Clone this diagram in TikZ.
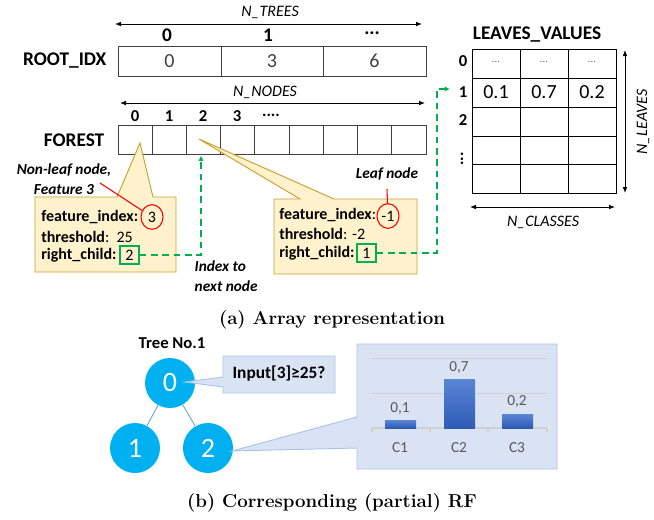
\documentclass[tikz,border=0pt]{standalone}
\usepackage{fontspec}
\newfontfamily\carl{Carlito}
\usetikzlibrary{arrows.meta,shapes.geometric}
\definecolor{callfill}{HTML}{FFF2CC}
\definecolor{calldraw}{HTML}{C9A030}
\definecolor{grn}{HTML}{00B050}
\definecolor{cyanc}{HTML}{00B0F0}
\definecolor{bfill}{HTML}{DAE3F3}
\definecolor{bdraw}{HTML}{A9C4E8}
\definecolor{edgec}{HTML}{5B9BD5}
\definecolor{bartop}{HTML}{5A86D6}
\definecolor{barbot}{HTML}{2D5BB5}
\definecolor{axisg}{HTML}{D0D0D0}
\definecolor{labg}{HTML}{595959}
\tikzset{
  arr/.style={line width=0.6pt,{Latex[length=4.5pt,width=3.5pt]}-{Latex[length=4.5pt,width=3.5pt]}},
  arrlbl/.style={font=\carl\itshape\fontsize{12}{14}\selectfont},
  bigbold/.style={font=\carl\bfseries\fontsize{14.5}{17}\selectfont},
  hdr/.style={font=\carl\bfseries\fontsize{14.5}{17}\selectfont},
  hdrs/.style={font=\carl\bfseries\fontsize{12.5}{15}\selectfont},
  cellv/.style={font=\carl\fontsize{15}{17}\selectfont,text=black!75},
  cellline/.style={draw=black!75,line width=0.7pt},
  gridline/.style={draw=black,line width=0.7pt},
  callout/.style={fill=callfill,draw=calldraw,line width=0.7pt},
  ctxt/.style={font=\carl\fontsize{12}{14}\selectfont,inner sep=0pt},
  note/.style={font=\carl\bfseries\itshape\fontsize{11.5}{15}\selectfont},
  redell/.style={ellipse,draw=red,line width=0.8pt,inner sep=0pt,minimum width=16.5pt,minimum height=18.5pt,font=\carl\fontsize{12}{14}\selectfont},
  redline/.style={draw=red,line width=0.8pt},
  greenbox/.style={draw=grn,line width=1.1pt,inner sep=0pt,minimum width=14pt,minimum height=13.5pt,font=\carl\fontsize{12}{14}\selectfont},
  gdash/.style={draw=grn,line width=1.3pt,dash pattern=on 5pt off 3.5pt,-{Latex[length=4pt,width=4pt]}},
  treenode/.style={circle,fill=cyanc,text=white,minimum size=37.5pt,inner sep=0pt,font=\carl\fontsize{21}{24}\selectfont},
  treeedge/.style={draw=edgec,line width=0.6pt},
  bcall/.style={fill=bfill,draw=bdraw,line width=0.7pt},
  chartlbl/.style={font=\carl\fontsize{11.5}{13}\selectfont,text=labg},
  capt/.style={font=\bfseries\fontsize{14}{16}\selectfont},
}
\begin{document}
\begin{tikzpicture}[x=0.75pt,y=-0.75pt]
\useasboundingbox (0,0) rectangle (654,519);

% ---------- ROOT_IDX ----------
\coordinate (ntL) at (115,24); \coordinate (ntR) at (422,24);
\draw[arr] (ntL) -- (ntR);
\node[arrlbl] (ntlbl) at (270,12) {N\_TREES};
\node[hdr] (rh0) at (167,35) {0};
\node[hdr] (rh1) at (268,35) {1};
\node[hdr] (rh2) at (372,33) {...};
\draw[cellline] (118,46) rectangle (426,76);
\draw[cellline] (221,46) -- (221,76) (323,46) -- (323,76);
\node[bigbold,anchor=east] (rootlbl) at (111,61) {ROOT\_IDX};
\node[cellv] (r0) at (169.5,61) {0};
\node[cellv] (r1) at (272,61) {3};
\node[cellv] (r2) at (374.5,61) {6};

% ---------- FOREST ----------
\coordinate (nnL) at (120,103); \coordinate (nnR) at (425,103);
\draw[arr] (nnL) -- (nnR);
\node[arrlbl] (nnlbl) at (265,92) {N\_NODES};
\node[hdrs] (fh0) at (135,116) {0};
\node[hdrs] (fh1) at (169,116) {1};
\node[hdrs] (fh2) at (203,116) {2};
\node[hdrs] (fh3) at (237,116) {3};
\node[hdrs] (fh4) at (271,115) {....};
\draw[cellline] (118,125) rectangle (426,154);
\foreach \k in {1,...,8} \draw[cellline] ({118+34.22*\k},125) -- ({118+34.22*\k},154);
\node[bigbold,anchor=east] (forestlbl) at (109,140) {FOREST};

% ---------- left callout ----------
\draw[callout] (35,197) -- (117,197) -- (140,143) -- (153,197) -- (176,197) -- (176,272) -- (35,272) -- cycle;
\node[ctxt,anchor=west] (a1) at (41,217) {\textbf{feature\_index:}};
\node[redell] (v3) at (152,217) {3};
\node[ctxt,anchor=west] (a2) at (41,237) {\textbf{threshold}:~~25};
\node[ctxt,anchor=west] (a3) at (41,255) {\textbf{right\_child:}};
\node[greenbox] (rc2) at (129.5,255) {2};
\node[note,align=center] (nonleaf) at (64,179) {Non-leaf node,\\Feature 3};
\coordinate (nlend) at (100,183);
\draw[redline] (nlend) -- (v3);
\coordinate (g0) at (201,155.5);
\draw[gdash] (rc2.east) -| (g0);
\node[note,align=left,anchor=west] (idx) at (190,276) {Index to\\next node};

% ---------- right callout ----------
\draw[callout] (274,199) -- (300,199) -- (199,139) -- (334,199) -- (417,199) -- (417,274) -- (274,274) -- cycle;
\node[ctxt,anchor=west] (b1) at (279,215) {\textbf{feature\_index}:};
\node[redell] (vm1) at (388,216) {-1};
\node[ctxt,anchor=west] (b2) at (279,234) {\textbf{threshold}: -2};
\node[ctxt,anchor=west] (b3) at (279,253) {\textbf{right\_child:}};
\node[greenbox] (rc1) at (366.5,253) {1};
\node[note] (leaf) at (387,174) {Leaf node};
\coordinate (lfend) at (387,189);
\draw[redline] (lfend) -- (vm1);
\coordinate (g1) at (437,89); \coordinate (g2) at (450,89);
\draw[gdash] (rc1.east) -| (g1) -- (g2);

% ---------- LEAVES_VALUES ----------
\node[bigbold] (lvtitle) at (537,35) {LEAVES\_VALUES};
\draw[gridline] (472,49) rectangle (616,193);
\foreach \xx in {520,568} \draw[gridline] (\xx,49) -- (\xx,193);
\foreach \yy in {78,107,136,164} \draw[gridline] (472,\yy) -- (616,\yy);
\node[hdrs] (lr0) at (463,61) {0};
\node[hdrs] (lr1) at (463,92) {1};
\node[hdrs] (lr2) at (463,120) {2};
\node[hdrs,rotate=90,inner sep=0pt] (lr3) at (462,159) {...};
\foreach \xx/\nm in {496/d0,544/d1,592/d2} \node[font=\carl\fontsize{8}{9}\selectfont,text=black!60] (\nm) at (\xx,62) {...};
\node[cellv,text=black] (lv0) at (496,92) {0.1};
\node[cellv,text=black] (lv1) at (544,92) {0.7};
\node[cellv,text=black] (lv2) at (592,92) {0.2};
\coordinate (nlT) at (625,50); \coordinate (nlB) at (625,193);
\draw[arr] (nlT) -- (nlB);
\node[arrlbl,rotate=90] (nllbl) at (643,122) {N\_LEAVES};
\coordinate (ncL) at (470,207); \coordinate (ncR) at (615,207);
\draw[arr] (ncL) -- (ncR);
\node[arrlbl] (nclbl) at (543,222) {N\_CLASSES};

\node[capt] (capa) at (332,320) {(a) Array representation};

% ---------- part (b) ----------
\node[font=\carl\bfseries\fontsize{12.5}{15}\selectfont] (treelbl) at (172,343) {Tree No.1};
\node[treenode] (t0) at (170,383) {0};
\node[treenode] (t1) at (135,448) {1};
\node[treenode] (t2) at (208,448) {2};
\draw[treeedge] (t0) -- (t1);
\draw[treeedge] (t0) -- (t2);

\draw[bcall] (223,356) -- (335,356) -- (335,393) -- (223,393) -- (223,387) -- (185,382) -- (223,377) -- cycle;
\node[font=\carl\bfseries\fontsize{13}{15}\selectfont] (q) at (279,374) {Input[3]≥25?};

\draw[bcall] (357,344) -- (557,344) -- (557,469) -- (357,469) -- (357,448) -- (232,451) -- (357,417) -- cycle;
\draw[axisg,line width=0.6pt] (372,358) -- (547,358) (372,393) -- (547,393);
\draw[axisg,line width=0.8pt] (372,428) -- (547,428);
\foreach \xx in {372,430,488,547} \draw[axisg,line width=0.8pt] (\xx,428) -- (\xx,432);
\shade[top color=bartop,bottom color=barbot] (385,420) rectangle (416,428);
\shade[top color=bartop,bottom color=barbot] (444,379) rectangle (475,428);
\shade[top color=bartop,bottom color=barbot] (502,414) rectangle (533,428);
\node[chartlbl] (c1v) at (400,408) {0,1};
\node[chartlbl] (c2v) at (459,367) {0,7};
\node[chartlbl] (c3v) at (517,401) {0,2};
\node[chartlbl] (c1) at (400,448) {C1};
\node[chartlbl] (c2) at (459,448) {C2};
\node[chartlbl] (c3) at (517,448) {C3};

\node[capt] (capb) at (332,503) {(b) Corresponding (partial) RF};
\end{tikzpicture}
\end{document}
